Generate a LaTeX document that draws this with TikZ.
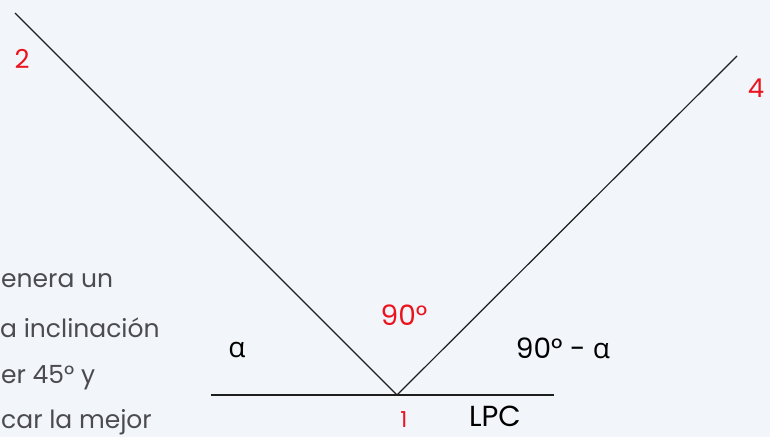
\documentclass[tikz,border=0pt]{standalone}
\usepackage{fontspec}
\setmainfont{Poppins}
\newfontfamily\alphafont{Open Sans}
\usetikzlibrary{positioning}
\definecolor{pagebg}{RGB}{242,245,250}
\definecolor{markred}{RGB}{235,20,30}
\definecolor{bodygray}{RGB}{75,75,80}
\definecolor{linecol}{RGB}{30,30,30}
\newcommand{\alf}{{\alphafont α}}

\begin{document}
\begin{tikzpicture}[
    x=1pt, y=-1pt,
    ray/.style={draw=linecol, line width=1.2pt},
    ptlabel/.style={text=markred, font=\fontsize{26}{30}\selectfont, inner sep=0pt},
    anglabel/.style={font=\fontsize{28}{32}\selectfont, inner sep=0pt, anchor=base},
    bodytxt/.style={text=bodygray, font=\fontsize{25}{30}\selectfont, inner sep=0pt, anchor=base west}
]
    \fill[pagebg] (0,0) rectangle (770,437);
    \useasboundingbox (0,0) rectangle (770,437);
    \clip (0,0) rectangle (770,437);

    % visible end of the paragraph on the left
    \node[bodytxt] (line1) at (1,287) {enera un};
    \node[bodytxt] (line2) at (0,337) {a inclinación};
    \node[bodytxt] (line3) at (1,383) {er 45° y};
    \node[bodytxt] (line4) at (1,428) {car la mejor};

    \coordinate (v1) at (397,395);
    \coordinate (p2) at (15,13);
    \coordinate (p4) at (737,56);
    \coordinate (baseL) at (211,395);
    \coordinate (baseR) at (554,395);

    \draw[ray] (p2) -- (v1) -- (p4);
    \draw[ray] (baseL) -- (baseR);

    \node[ptlabel] (n2) at (22,59) {2};
    \node[ptlabel] (n4) at (756,88) {4};
    \node[ptlabel, anchor=base, font=\fontsize{22}{26}\selectfont] (n1) at (404,427) {1};

    \node[anglabel, text=markred] (right) at (404,325) {90°};
    \node[anglabel] (alpha) at (237,357) {\alf};
    \node[anglabel] (comp) at (563,358) {90° - \alf};
    \node[anglabel, font=\fontsize{29}{33}\selectfont] (lpc) at (495,426) {LPC};
\end{tikzpicture}
\end{document}
